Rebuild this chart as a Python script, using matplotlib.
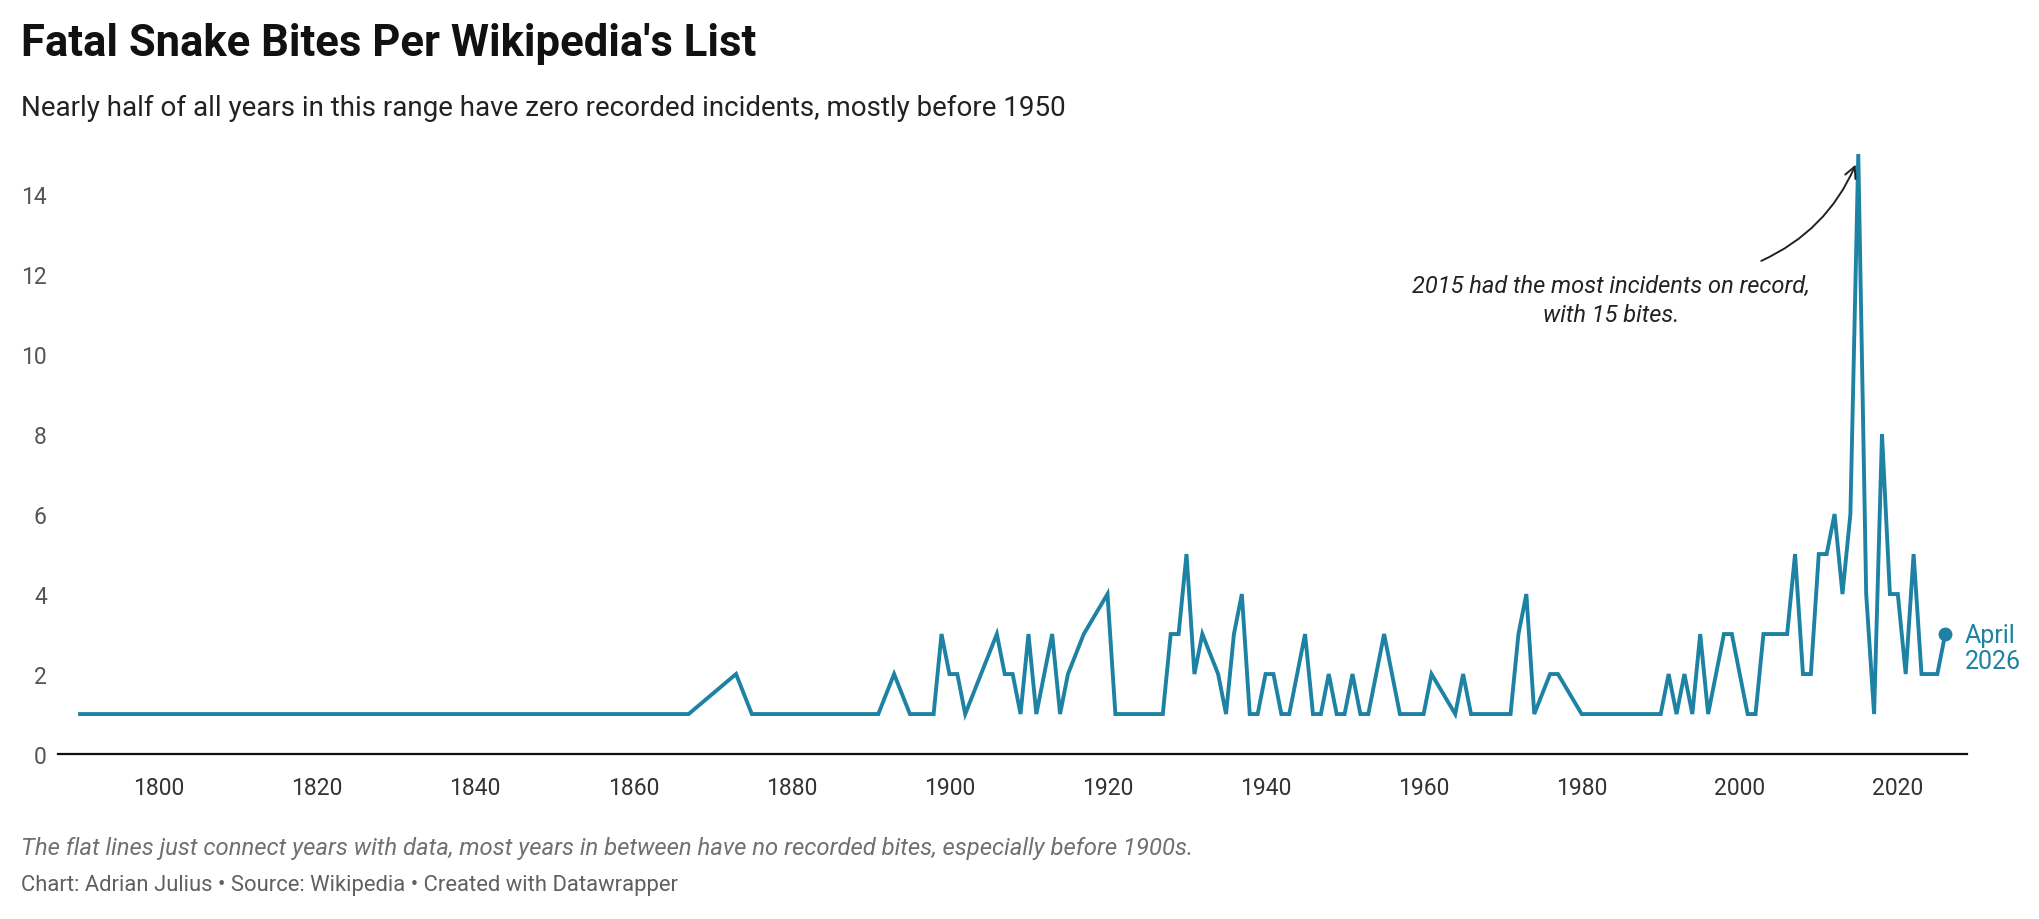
import matplotlib
matplotlib.use("Agg")
import matplotlib.pyplot as plt

plt.rcParams['font.family'] = ['Roboto', 'DejaVu Sans']

# years that have at least one recorded fatal bite, and the count
years = [1790, 1867, 1873, 1875, 1891, 1893, 1895, 1898, 1899, 1900, 1901, 1902,
         1906, 1907, 1908, 1909, 1910, 1911, 1913, 1914, 1915, 1917, 1920, 1921,
         1927, 1928, 1929, 1930, 1931, 1932, 1934, 1935, 1936, 1937, 1938, 1939,
         1940, 1941, 1942, 1943, 1945, 1946, 1947, 1948, 1949, 1950, 1951, 1952,
         1953, 1955, 1957, 1960, 1961, 1964, 1965, 1966, 1971, 1972, 1973, 1974,
         1976, 1977, 1980, 1990, 1991, 1992, 1993, 1994, 1995, 1996, 1998, 1999,
         2001, 2002, 2003, 2006, 2007, 2008, 2009, 2010, 2011, 2012, 2013, 2014,
         2015, 2016, 2017, 2018, 2019, 2020, 2021, 2022, 2023, 2024, 2025, 2026]
bites = [1, 1, 2, 1, 1, 2, 1, 1, 3, 2, 2, 1,
         3, 2, 2, 1, 3, 1, 3, 1, 2, 3, 4, 1,
         1, 3, 3, 5, 2, 3, 2, 1, 3, 4, 1, 1,
         2, 2, 1, 1, 3, 1, 1, 2, 1, 1, 2, 1,
         1, 3, 1, 1, 2, 1, 2, 1, 1, 3, 4, 1,
         2, 2, 1, 1, 2, 1, 2, 1, 3, 1, 3, 3,
         1, 1, 3, 3, 5, 2, 2, 5, 5, 6, 4, 6,
         15, 4, 1, 8, 4, 4, 2, 5, 2, 2, 2, 3]

x_ticks = [1800, 1820, 1840, 1860, 1880, 1900, 1920, 1940, 1960, 1980, 2000, 2020]
y_ticks = [0, 2, 4, 6, 8, 10, 12, 14]

line_col = '#1d82a3'

fig = plt.figure(figsize=(20.4, 9.2), dpi=100)
ax = fig.add_axes([0.0284, 0.1793, 0.9356, 0.6522])

ax.plot(years, bites, color=line_col, lw=2.8, solid_joinstyle='miter', clip_on=False)
ax.plot(years[-1], bites[-1], 'o', color=line_col, ms=9, clip_on=False)

ax.set_xlim(1787.2, 2028.7)
ax.set_ylim(0, 15)
ax.set_xticks(x_ticks)
ax.set_yticks(y_ticks)
ax.tick_params(axis='x', length=0, pad=16, labelsize=16.5, labelcolor='#333333')
ax.tick_params(axis='y', length=0, pad=8, labelsize=16.5, labelcolor='#555555')
for s in ['top', 'right', 'left']:
    ax.spines[s].set_visible(False)
ax.spines['bottom'].set_linewidth(1.6)
ax.spines['bottom'].set_color('#111111')

# end label
ax.annotate('April\n2026', xy=(years[-1], bites[-1]), xytext=(14, -10),
            textcoords='offset points', va='center', ha='left',
            fontsize=18, color=line_col, linespacing=1.1)

# peak annotation
ax.text(1983.7, 11.35, '2015 had the most incidents on record,\nwith 15 bites.',
        ha='center', va='center', fontsize=17, style='italic', color='#222222',
        linespacing=1.3)
ax.annotate('', xy=(2014.8, 14.8), xytext=(2002.4, 12.3),
            arrowprops=dict(arrowstyle='->', connectionstyle='arc3,rad=0.2',
                            lw=1.4, color='#222222', mutation_scale=20))

fig.text(0.0103, 0.952, "Fatal Snake Bites Per Wikipedia's List", fontsize=31.4,
         fontweight='bold', color='#111111', va='center', ha='left')
fig.text(0.0103, 0.882, 'Nearly half of all years in this range have zero recorded incidents, mostly before 1950',
         fontsize=20, color='#222222', va='center', ha='left')
fig.text(0.0103, 0.078, 'The flat lines just connect years with data, most years in between have no recorded bites, especially before 1900s.',
         fontsize=17.2, style='italic', color='#707070', va='center', ha='left')
fig.text(0.0103, 0.037, 'Chart: Adrian Julius \u2022 Source: Wikipedia \u2022 Created with Datawrapper',
         fontsize=15.8, color='#606060', va='center', ha='left')

plt.savefig('out.png', dpi=100)
